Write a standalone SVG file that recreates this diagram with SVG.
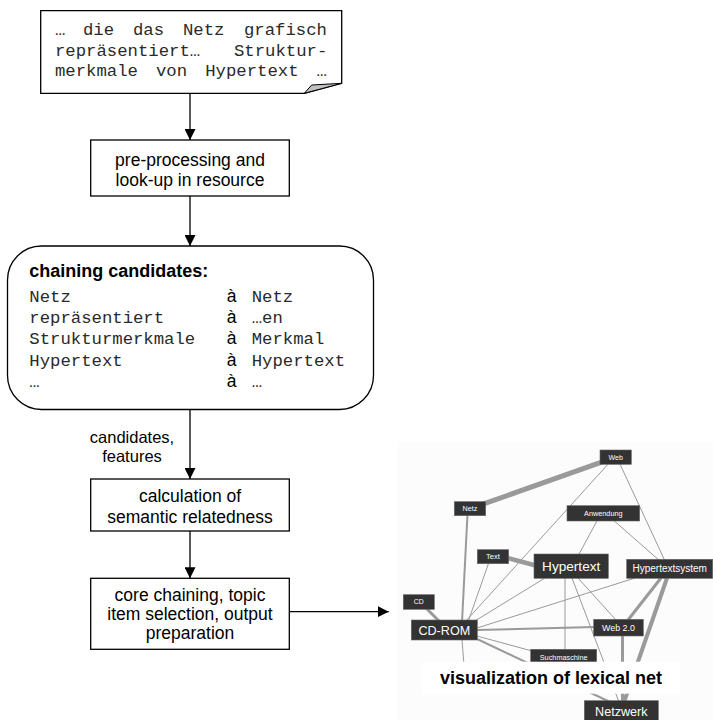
<svg xmlns="http://www.w3.org/2000/svg" width="713" height="720" viewBox="0 0 713 720">
<defs>
<marker id="ah" markerUnits="userSpaceOnUse" markerWidth="11" markerHeight="11" viewBox="0 0 11 11" refX="11" refY="5.5" orient="auto">
<path d="M0,0 L11,5.5 L0,11 z" fill="#000"/>
</marker>
<style>
.box{fill:#fff;stroke:#000;stroke-width:1.3}
.sans{font-family:"Liberation Sans",Arial,sans-serif;fill:#000}
.mono{font-family:"Liberation Mono","Courier New",monospace;font-size:17.3px;fill:#2a2a2a}
.bt{font-size:17.5px;text-anchor:middle}
.conn{stroke:#000;stroke-width:1.3;fill:none;marker-end:url(#ah)}
.e{stroke:#9a9a9a;fill:none;stroke-linecap:butt}
.n rect{fill:#333;stroke:#666;stroke-width:0.6}
.n text{font-family:"Liberation Sans",Arial,sans-serif;fill:#fff;text-anchor:middle}
</style>
</defs>
<rect width="713" height="720" fill="#fff"/>

<g id="note">
<path class="box" d="M40.7,10.7 H341.7 V83.3 L304.3,93.3 H40.7 Z"/>
<path d="M304.3,93.3 L311.7,85 L341.7,83.3 Z" fill="#c0c0c0" stroke="#000" stroke-width="1"/>
<text class="mono" y="35"><tspan x="55">…</tspan><tspan x="83">die</tspan><tspan x="133">das</tspan><tspan x="183">Netz</tspan><tspan x="244">grafisch</tspan></text>
<text class="mono" y="55.5"><tspan x="55">repräsentiert…</tspan><tspan x="234">Struktur-</tspan></text>
<text class="mono" y="75.7"><tspan x="55">merkmale</tspan><tspan x="156">von</tspan><tspan x="205.2">Hypertext</tspan><tspan x="316.6">…</tspan></text>
</g>

<g id="preprocessing">
<rect class="box" x="90.7" y="140" width="198.6" height="56"/>
<text class="sans bt" x="190" y="165.5" font-size="18">pre-processing and</text>
<text class="sans bt" x="190" y="185.7" font-size="18">look-up in resource</text>
</g>

<g id="candidates">
<rect class="box" x="7.5" y="246" width="366" height="163.5" rx="34" ry="34"/>
<text class="sans" x="29.3" y="277.3" font-size="18" font-weight="bold">chaining candidates:</text>
<text class="mono" x="29.3" y="301.5">Netz</text>
<text class="mono" x="29.3" y="322.9">repräsentiert</text>
<text class="mono" x="29.3" y="344.3">Strukturmerkmale</text>
<text class="mono" x="29.3" y="365.7">Hypertext</text>
<text class="mono" x="29.3" y="387.1">…</text>
<g class="sans" font-size="17.5">
<text x="226.7" y="301.5">à</text>
<text x="226.7" y="322.9">à</text>
<text x="226.7" y="344.3">à</text>
<text x="226.7" y="365.7">à</text>
<text x="226.7" y="387.1">à</text>
</g>
<text class="mono" x="251.7" y="301.5">Netz</text>
<text class="mono" x="251.7" y="322.9">…en</text>
<text class="mono" x="251.7" y="344.3">Merkmal</text>
<text class="mono" x="251.7" y="365.7">Hypertext</text>
<text class="mono" x="251.7" y="387.1">…</text>
</g>

<g id="calculation">
<rect class="box" x="90.7" y="479" width="198.6" height="52"/>
<text class="sans bt" x="190" y="502.3">calculation of</text>
<text class="sans bt" x="190" y="523.3">semantic relatedness</text>
</g>

<g id="corechaining">
<rect class="box" x="90.7" y="578.3" width="198.6" height="71"/>
<text class="sans bt" x="190" y="601" font-size="17">core chaining, topic</text>
<text class="sans bt" x="190" y="620" font-size="17">item selection, output</text>
<text class="sans bt" x="190" y="639" font-size="17">preparation</text>
</g>

<g id="connectors">
<line class="conn" x1="190" y1="93.3" x2="190" y2="140"/>
<line class="conn" x1="190" y1="196" x2="190" y2="246"/>
<line class="conn" x1="190" y1="409.5" x2="190" y2="479"/>
<line class="conn" x1="190" y1="531" x2="190" y2="578.3"/>
<line class="conn" x1="289.3" y1="611.7" x2="388.7" y2="611.7"/>
<g class="sans" font-size="16.5" text-anchor="middle">
<text x="132" y="442.5">candidates,</text>
<text x="132" y="461.7">features</text>
</g>
</g>

<g id="lexical-net">
<rect x="398" y="442" width="315" height="278" fill="#fcfcfc"/>
<g id="net-edges">
<line class="e" x1="470" y1="508.7" x2="615.7" y2="457.2" stroke="#888" stroke-width="5"/>
<line class="e" x1="610" y1="462" x2="465" y2="622" stroke-width="1"/>
<line class="e" x1="619" y1="462" x2="665" y2="561" stroke-width="1"/>
<line class="e" x1="598" y1="519" x2="578" y2="556" stroke-width="1"/>
<line class="e" x1="612" y1="519" x2="660" y2="561" stroke-width="1"/>
<line class="e" x1="500" y1="556" x2="545" y2="568" stroke="#888" stroke-width="4.5"/>
<line class="e" x1="467.5" y1="514" x2="462" y2="622" stroke="#888" stroke-width="2"/>
<line class="e" x1="489" y1="562" x2="468" y2="622" stroke-width="1"/>
<line class="e" x1="545" y1="578" x2="470" y2="624" stroke-width="1"/>
<line class="e" x1="477" y1="628" x2="635" y2="578" stroke-width="1"/>
<line class="e" x1="477" y1="630" x2="594" y2="627" stroke="#888" stroke-width="2"/>
<line class="e" x1="477" y1="636" x2="532" y2="651" stroke-width="1"/>
<line class="e" x1="475" y1="638" x2="610" y2="702" stroke="#888" stroke-width="2"/>
<line class="e" x1="462" y1="640" x2="466" y2="690" stroke-width="1"/>
<line class="e" x1="425" y1="607" x2="440" y2="622" stroke="#888" stroke-width="3"/>
<line class="e" x1="565" y1="578" x2="565" y2="650" stroke="#aaa" stroke-width="1"/>
<line class="e" x1="572" y1="578" x2="619" y2="702" stroke-width="1"/>
<line class="e" x1="578" y1="578" x2="616" y2="620" stroke-width="1"/>
<line class="e" x1="661" y1="578" x2="628" y2="620" stroke="#888" stroke-width="3"/>
<line class="e" x1="667" y1="578" x2="624" y2="702" stroke="#888" stroke-width="4"/>
<line class="e" x1="622.5" y1="636" x2="622.5" y2="702" stroke="#888" stroke-width="3"/>
</g>
<g id="net-web" class="n"><rect x="600" y="450" width="31.3" height="14.3"/><text x="615.7" y="460" font-size="7">Web</text></g>
<g id="net-netz" class="n"><rect x="454.3" y="501.7" width="31.4" height="14"/><text x="470" y="511.3" font-size="7.2">Netz</text></g>
<g id="net-anwendung" class="n"><rect x="567" y="505.7" width="72.7" height="15.3"/><text x="603.3" y="515.9" font-size="7.3">Anwendung</text></g>
<g id="net-text" class="n"><rect x="477.3" y="549.7" width="31.4" height="14"/><text x="493" y="559.4" font-size="7.5">Text</text></g>
<g id="net-hypertext" class="n"><rect x="534" y="554" width="74.3" height="24.3"/><text x="571.2" y="571" font-size="13.6">Hypertext</text></g>
<g id="net-hypertextsystem" class="n"><rect x="626.7" y="559.3" width="86" height="19"/><text x="669.7" y="572.4" font-size="10">Hypertextsystem</text></g>
<g id="net-cd" class="n"><rect x="403.3" y="594.7" width="31" height="14.6"/><text x="418.8" y="604.4" font-size="6.9">CD</text></g>
<g id="net-cdrom" class="n"><rect x="411.3" y="620" width="66" height="20"/><text x="444.3" y="634.5" font-size="12.6">CD-ROM</text></g>
<g id="net-web20" class="n"><rect x="593.7" y="619.3" width="49.6" height="16.7"/><text x="618.5" y="630.8" font-size="8.9">Web 2.0</text></g>
<g id="net-suchmaschine" class="n"><rect x="530.7" y="649.3" width="66" height="16"/><text x="563.7" y="659.8" font-size="7.3">Suchmaschine</text></g>
<g id="net-netzwerk" class="n"><rect x="584.3" y="700.7" width="74" height="22"/><text x="621.3" y="716" font-size="12.6">Netzwerk</text></g>
<g id="net-label">
<rect x="422" y="661.7" width="258" height="32" fill="#fff"/>
<text class="sans" x="551" y="684" font-size="18" font-weight="bold" text-anchor="middle">visualization of lexical net</text>
</g>
</g>
</svg>
